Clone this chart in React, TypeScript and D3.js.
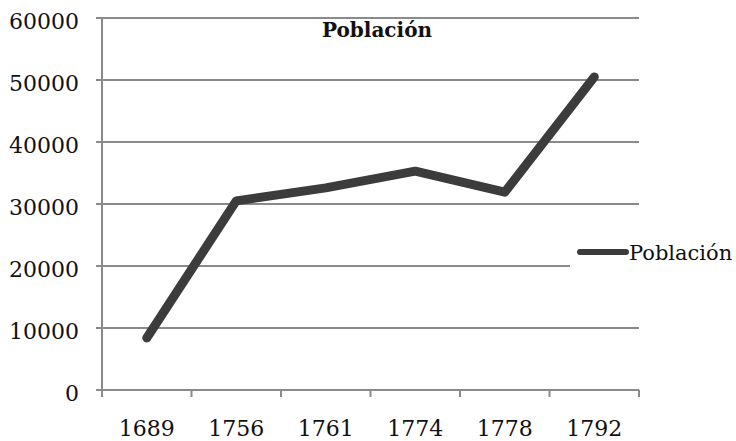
import React, { useEffect, useRef } from "react";
import * as d3 from "d3";

const years = ["1689", "1756", "1761", "1774", "1778", "1792"];
const poblacion = [8400, 30500, 32600, 35300, 31900, 50500];
const yTicks = [0, 10000, 20000, 30000, 40000, 50000, 60000];

const App: React.FC = () => {
  const ref = useRef<SVGSVGElement | null>(null);

  useEffect(() => {
    const width = 736;
    const height = 441;
    const m = { left: 102, right: 97, top: 18, bottom: 51 };
    const font = "'DejaVu Serif', serif";

    const svg = d3.select(ref.current);
    svg.selectAll("*").remove();
    svg.attr("width", width).attr("height", height);

    const x = d3
      .scaleBand<string>()
      .domain(years)
      .range([m.left, width - m.right]);
    const y = d3
      .scaleLinear()
      .domain([0, 60000])
      .range([height - m.bottom, m.top]);

    // gridlines
    svg
      .append("g")
      .selectAll("line")
      .data(yTicks)
      .enter()
      .append("line")
      .attr("x1", m.left - 6)
      .attr("x2", width - m.right)
      .attr("y1", (d) => y(d))
      .attr("y2", (d) => y(d))
      .attr("stroke", "#8a8a8a")
      .attr("stroke-width", 2);

    // y axis line
    svg
      .append("line")
      .attr("x1", m.left)
      .attr("x2", m.left)
      .attr("y1", m.top)
      .attr("y2", height - m.bottom + 7)
      .attr("stroke", "#8a8a8a")
      .attr("stroke-width", 2);

    // x ticks
    const edges = years.map((d) => x(d)!).concat([width - m.right]);
    svg
      .append("g")
      .selectAll("line")
      .data(edges)
      .enter()
      .append("line")
      .attr("x1", (d) => d)
      .attr("x2", (d) => d)
      .attr("y1", y(0))
      .attr("y2", y(0) + 7)
      .attr("stroke", "#8a8a8a")
      .attr("stroke-width", 2);

    // y labels
    svg
      .append("g")
      .selectAll("text")
      .data(yTicks)
      .enter()
      .append("text")
      .attr("x", m.left - 23)
      .attr("y", (d) => y(d) + 3)
      .attr("dy", "0.36em")
      .attr("text-anchor", "end")
      .style("font-family", font)
      .style("font-size", "22px")
      .attr("fill", "#111")
      .text((d) => String(d));

    // x labels
    svg
      .append("g")
      .selectAll("text")
      .data(years)
      .enter()
      .append("text")
      .attr("x", (d) => x(d)! + x.bandwidth() / 2)
      .attr("y", height - 5)
      .attr("text-anchor", "middle")
      .style("font-family", font)
      .style("font-size", "22px")
      .attr("fill", "#111")
      .text((d) => d);

    // legend background hides part of grid
    svg
      .append("rect")
      .attr("x", 570)
      .attr("y", 236)
      .attr("width", 166)
      .attr("height", 36)
      .attr("fill", "#fff");

    // series line
    const line = d3
      .line<number>()
      .x((_, i) => x(years[i])! + x.bandwidth() / 2)
      .y((d) => y(d));
    svg
      .append("path")
      .datum(poblacion)
      .attr("d", line)
      .attr("fill", "none")
      .attr("stroke", "#3c3c3c")
      .attr("stroke-width", 9)
      .attr("stroke-linecap", "round")
      .attr("stroke-linejoin", "round");

    // title
    svg
      .append("text")
      .attr("x", 377)
      .attr("y", 37)
      .attr("text-anchor", "middle")
      .style("font-family", font)
      .style("font-size", "20px")
      .style("font-weight", "bold")
      .attr("fill", "#111")
      .text("Población");

    // legend
    svg
      .append("line")
      .attr("x1", 580)
      .attr("x2", 626)
      .attr("y1", 252)
      .attr("y2", 252)
      .attr("stroke", "#3c3c3c")
      .attr("stroke-width", 6)
      .attr("stroke-linecap", "round");
    svg
      .append("text")
      .attr("x", 629)
      .attr("y", 260)
      .style("font-family", font)
      .style("font-size", "21px")
      .attr("fill", "#111")
      .text("Población");
  }, []);

  return <svg ref={ref} style={{ position: "absolute", left: 0, top: 0 }} />;
};

export default App;
